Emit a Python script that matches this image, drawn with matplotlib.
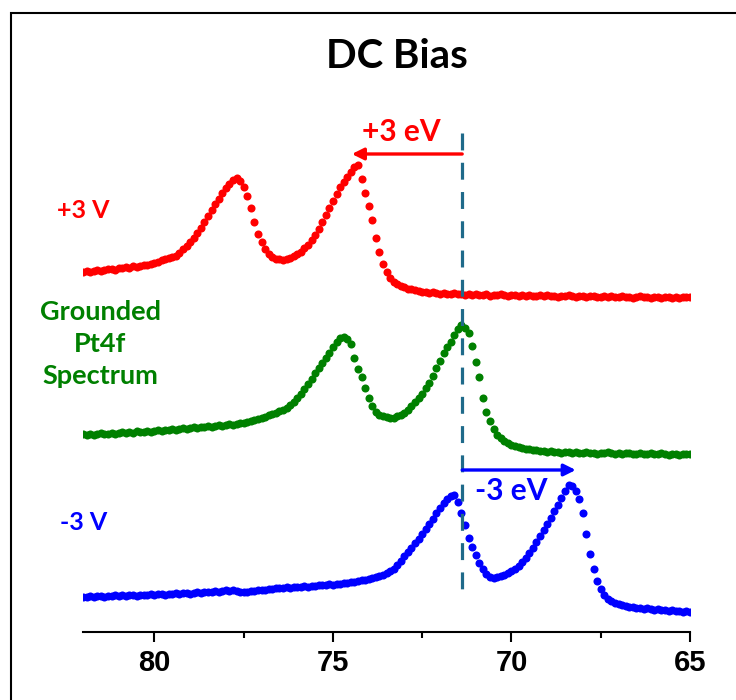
import numpy as np
import matplotlib
matplotlib.use("Agg")
import matplotlib.pyplot as plt
from matplotlib.patches import Rectangle

# binding energy grid (eV), 82.0 -> 65.0 in 0.1 eV steps
energy = np.round(np.linspace(82.0, 65.0, 171), 1)

# intensities (a.u.), already offset for stacking
plus3 = [
    360, 361, 360, 361, 362, 361, 362, 363, 363, 362,
    364, 364, 365, 364, 366, 365, 366, 367, 367, 368,
    369, 370, 372, 373, 374, 375, 376, 379, 383, 386,
    390, 394, 399, 404, 410, 416, 422, 428, 433, 439,
    444, 448, 452, 454, 451, 445, 436, 424, 410, 398,
    390, 383, 378, 375, 373, 373, 372, 373, 374, 376,
    378, 380, 384, 387, 392, 397, 403, 410, 417, 424,
    431, 438, 445, 450, 455, 460, 465, 467, 453, 439,
    426, 412, 394, 380, 368, 360, 354, 350, 348, 346,
    345, 343, 343, 342, 341, 340, 340, 339, 340, 339,
    338, 339, 338, 338, 339, 338, 338, 337, 338, 337,
    338, 337, 337, 338, 336, 337, 337, 338, 337, 336,
    337, 337, 336, 337, 336, 337, 336, 336, 337, 336,
    337, 336, 336, 335, 336, 336, 337, 336, 335, 336,
    336, 335, 336, 336, 335, 335, 336, 335, 336, 335,
    335, 336, 335, 335, 334, 335, 336, 335, 335, 334,
    335, 335, 334, 335, 335, 334, 335, 334, 335, 335,
    335,
]
grounded = [
    198, 197, 198, 197, 198, 199, 198, 198, 199, 198,
    199, 200, 199, 200, 199, 201, 200, 200, 201, 200,
    201, 202, 201, 202, 202, 203, 202, 203, 204, 203,
    204, 205, 204, 205, 205, 206, 205, 206, 207, 206,
    207, 208, 207, 208, 209, 209, 210, 211, 212, 213,
    214, 215, 217, 218, 219, 221, 222, 224, 227, 230,
    234, 238, 243, 248, 253, 259, 264, 269, 274, 279,
    285, 290, 294, 295, 293, 288, 274, 263, 255, 244,
    234, 226, 220, 217, 216, 215, 214, 214, 216, 217,
    219, 222, 226, 230, 234, 238, 244, 249, 256, 264,
    271, 279, 285, 290, 297, 303, 307, 304, 299, 286,
    270, 255, 234, 220, 211, 203, 197, 194, 191, 189,
    187, 186, 185, 184, 183, 183, 182, 182, 181, 181,
    180, 181, 180, 180, 179, 180, 180, 179, 180, 179,
    179, 180, 179, 179, 178, 179, 179, 180, 179, 178,
    179, 178, 179, 179, 178, 178, 179, 178, 178, 179,
    178, 178, 179, 178, 177, 178, 178, 177, 178, 178,
    178,
]
minus3 = [
    35, 35, 36, 35, 36, 36, 35, 36, 36, 37,
    36, 37, 36, 37, 37, 36, 37, 37, 37, 38,
    37, 38, 38, 37, 38, 38, 39, 38, 39, 39,
    38, 39, 40, 39, 40, 40, 40, 41, 40, 41,
    42, 41, 42, 41, 40, 40, 40, 41, 41, 42,
    42, 42, 43, 43, 44, 44, 44, 45, 44, 45,
    45, 45, 46, 45, 46, 46, 47, 47, 47, 48,
    47, 48, 48, 49, 49, 50, 50, 51, 52, 52,
    53, 54, 55, 56, 57, 59, 61, 63, 67, 71,
    76, 80, 84, 89, 93, 98, 103, 108, 113, 119,
    124, 129, 133, 136, 137, 130, 119, 107, 94, 85,
    77, 69, 63, 58, 55, 54, 55, 56, 57, 59,
    61, 63, 66, 70, 74, 79, 84, 90, 96, 102,
    108, 114, 121, 127, 134, 141, 147, 146, 141, 133,
    119, 98, 78, 63, 51, 43, 37, 33, 31, 29,
    28, 27, 26, 25, 25, 24, 24, 23, 24, 23,
    22, 23, 22, 22, 21, 22, 21, 21, 20, 21,
    20,
]

ref_energy = 71.38      # grounded Pt4f7/2 position (dashed line)
shift_plus = 74.47      # +3 V peak position
shift_minus = 68.2      # -3 V peak position
ticks_major = [80, 75, 70, 65]
ticks_minor = [77.5, 72.5, 67.5]

RED = "#ff0000"
GREEN = "#008000"
BLUE = "#0000ff"
TEAL = "#1f6a8a"

fig = plt.figure(figsize=(7.36, 7.0), dpi=100)
ax = fig.add_axes([83 / 736, 68 / 700, 607 / 736, 532 / 700])

for vals, col in [(plus3, RED), (grounded, GREEN), (minus3, BLUE)]:
    ax.plot(energy, vals, linestyle="none", marker="o", ms=5.8, mew=0, color=col)

# drawn top -> bottom so the dash pattern starts at the top end
ax.plot([ref_energy, ref_energy], [499, 42], color=TEAL, lw=2.3,
        linestyle=(0, (5.3, 3.86)))

ax.annotate("", xy=(shift_plus, 478), xytext=(ref_energy, 478),
            arrowprops=dict(arrowstyle="-|>,head_length=0.7,head_width=0.35",
                            color=RED, lw=2.4, shrinkA=0, shrinkB=0))
ax.annotate("", xy=(shift_minus, 162), xytext=(ref_energy, 162),
            arrowprops=dict(arrowstyle="-|>,head_length=0.7,head_width=0.35",
                            color=BLUE, lw=2.4, shrinkA=0, shrinkB=0))

lbl = dict(family="Lato", weight="bold", ha="center", va="center", clip_on=False)
ax.text(73.09, 500, "+3 eV", color=RED, fontsize=21.5, **lbl)
ax.text(70.0, 141, "-3 eV", color=BLUE, fontsize=21.5, **lbl)
ax.text(81.99, 421, "+3 V", color=RED, fontsize=18, **lbl)
ax.text(81.52, 288, "Grounded\nPt4f\nSpectrum", color=GREEN, fontsize=19.5,
        linespacing=1.4, **lbl)
ax.text(81.99, 110, "-3 V", color=BLUE, fontsize=18, **lbl)

fig.text(397 / 736, 1 - 57 / 700, "DC Bias", family="Lato", weight="bold",
         fontsize=29, ha="center", va="center")

ax.set_xlim(82, 65)
ax.set_ylim(0, 532)
ax.set_xticks(ticks_major)
ax.set_xticks(ticks_minor, minor=True)
ax.set_yticks([])
for s in ["left", "right", "top"]:
    ax.spines[s].set_visible(False)
ax.spines["bottom"].set_linewidth(1.5)
ax.tick_params(axis="x", which="major", direction="out", length=7.5, width=1.5, pad=5)
ax.tick_params(axis="x", which="minor", direction="out", length=4.5, width=1.5)
for t in ax.get_xticklabels():
    t.set_fontfamily("Liberation Sans")
    t.set_fontweight("bold")
    t.set_fontsize(21)
ax.patch.set_alpha(0)

frame = Rectangle((11 / 736, -0.05), 1.2, 1.05 - 13 / 700, transform=fig.transFigure,
                  fill=False, edgecolor="black", lw=1.5)
fig.add_artist(frame)

fig.savefig("out.png", dpi=100)
